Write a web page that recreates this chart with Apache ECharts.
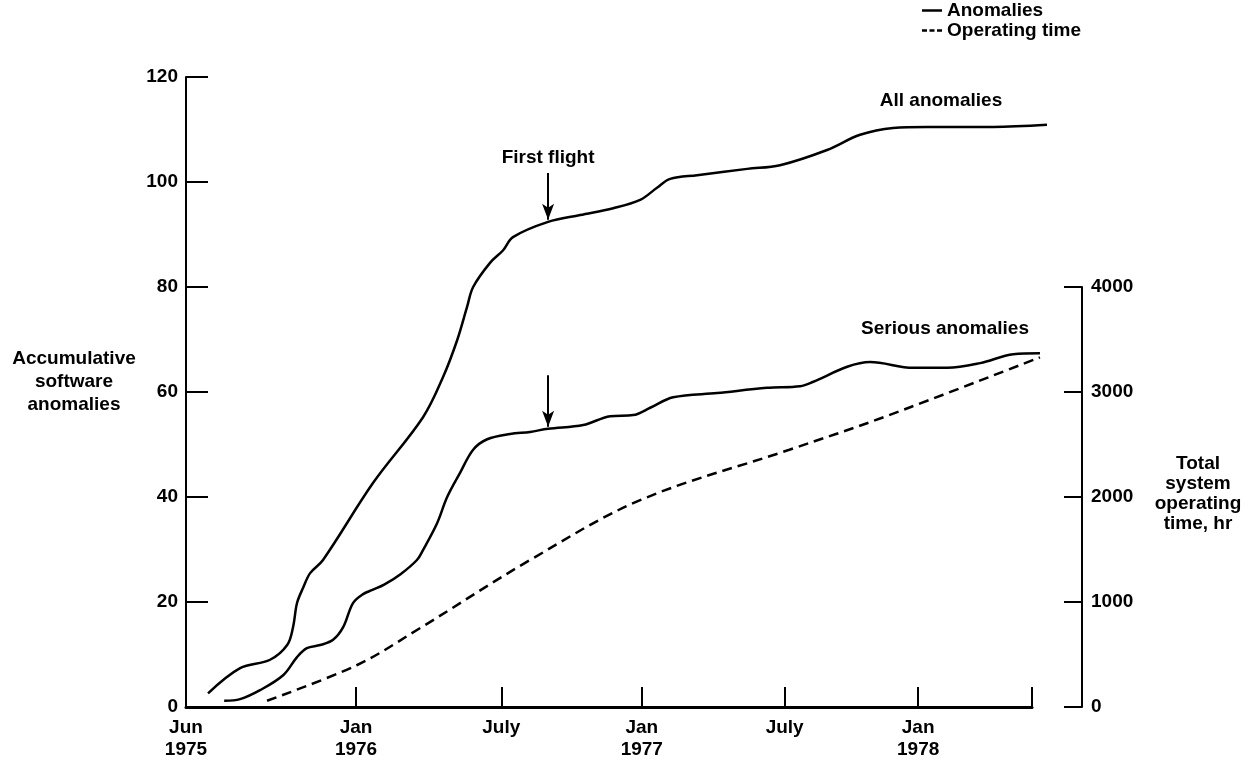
<!DOCTYPE html>
<html><head><meta charset="utf-8">
<script src="https://cdn.jsdelivr.net/npm/echarts@6/dist/echarts.min.js"></script>
<style>html,body{margin:0;padding:0;background:#fff}#c{width:1246px;height:764px}</style>
</head><body><div id="c"></div>
<script>
// x values: months since June 1975
const xMin = -0.26, xMax = 35.86;
const xTickMonths = [7.0, 13.2, 19.2, 25.3, 31.0, 35.86];
const xLabelMonths = [-0.26, 7.0, 13.2, 19.2, 25.3, 31.0];
const xLabels = ['Jun\n1975', 'Jan\n1976', 'July', 'Jan\n1977', 'July', 'Jan\n1978'];

const allMonths = [0.68, 2.05, 3.33, 4.06, 4.31, 4.48, 4.74, 5.04, 5.59, 7.73, 9.86, 10.72, 11.32, 11.74, 12.0, 12.72, 13.28, 13.7, 15.2, 16.57, 17.98, 19.13, 19.85, 20.41, 21.56, 23.7, 25.1, 27.11, 28.52, 29.93, 31.38, 34.2, 36.5];
const allValues = [2.6, 7.4, 9.0, 11.8, 15.2, 19.8, 22.7, 25.5, 28.0, 42.7, 55.2, 62.9, 69.9, 76.2, 80.0, 84.6, 87.0, 89.5, 92.4, 93.7, 95.0, 96.6, 98.9, 100.6, 101.3, 102.5, 103.2, 106.1, 109.0, 110.3, 110.5, 110.5, 110.9];

const seriousMonths = [1.37, 2.05, 2.9, 3.9, 4.48, 4.9, 5.47, 6.02, 6.45, 6.87, 7.3, 7.7, 8.2, 8.9, 9.6, 9.86, 10.46, 10.89, 11.44, 12.0, 12.6, 13.58, 14.43, 15.2, 16.7, 17.85, 18.83, 19.56, 20.54, 22.42, 24.55, 25.96, 26.5, 27.97, 28.95, 30.79, 32.24, 33.65, 35.06, 36.2];
const seriousValues = [1.2, 1.5, 3.2, 6.1, 9.5, 11.2, 11.8, 12.8, 15.2, 19.8, 21.5, 22.3, 23.3, 25.3, 28.0, 29.9, 35.0, 40.0, 44.6, 49.0, 51.0, 52.0, 52.4, 53.0, 53.7, 55.4, 55.6, 57.0, 59.0, 59.8, 60.8, 61.1, 61.9, 64.8, 65.7, 64.6, 64.6, 65.5, 67.2, 67.4];

const opMonths = [3.2, 7.05, 9.6, 14.43, 19.13, 25.5, 29.4, 36.2];
const opValues = [60, 400, 733, 1400, 1970, 2450, 2750, 3330];

const leftTicks = [0, 20, 40, 60, 80, 100, 120];
const rightTicks = [0, 1000, 2000, 3000, 4000];

const firstFlightMonth = 15.2;

const FONT = '"Liberation Sans", Arial, Helvetica, sans-serif';
const zip = (a, b) => a.map((v, i) => [v, b[i]]);

// layout (pixels)
const G = {left: 186, axisRight: 1032, drawRight: 1052, top: 77, topOp: 287, bottom: 57, W: 1246};
// the curves run slightly past the end of the drawn x axis: a wider hidden grid with the same scale
const xMaxExt = xMin + (xMax - xMin) * (G.drawRight - G.left) / (G.axisRight - G.left);

const chart = echarts.init(document.getElementById('c'), null, {renderer: 'canvas'});
const txt = {fontFamily: FONT, fontWeight: 'bold', fontSize: 19, color: '#000'};
const gtxt = (x, y, text, lh) => ({type: 'text', silent: true, style: {x, y, text, font: 'bold 19px ' + FONT, fill: '#000', align: 'center', verticalAlign: 'middle', lineHeight: lh || 22}});
const hiddenX = (gi, max) => ({type: 'value', gridIndex: gi, min: xMin, max, show: false, axisLine: {onZero: false}});
const hiddenY = (gi, max) => ({type: 'value', gridIndex: gi, min: 0, max, show: false, axisLine: {onZero: false}});

chart.setOption({
  animation: false,
  backgroundColor: '#fff',
  textStyle: {fontFamily: FONT},
  grid: [
    {left: G.left, right: G.W - G.axisRight, top: G.top, bottom: G.bottom},
    {left: G.left, right: G.W - G.axisRight, top: G.topOp, bottom: G.bottom},
    {left: G.left, right: G.W - G.drawRight, top: G.top, bottom: G.bottom},
    {left: G.left, right: G.W - G.drawRight, top: G.topOp, bottom: G.bottom}
  ],
  legend: {
    data: [
      {name: 'Anomalies', icon: 'path://M0,0H20V2.5H0Z'},
      {name: 'Operating time', icon: 'path://M0,0H5V2.5H0Z M7.5,0H12.5V2.5H7.5Z M15,0H20V2.5H15Z'}
    ],
    orient: 'vertical', left: 922, top: 1, itemGap: 1, padding: 0,
    itemWidth: 20, itemHeight: 2.5, selectedMode: false,
    textStyle: Object.assign({}, txt)
  },
  xAxis: [{
    type: 'value', gridIndex: 0, min: xMin, max: xMax,
    splitLine: {show: false},
    axisLine: {show: true, onZero: false, lineStyle: {color: '#000', width: 3}},
    axisTick: {show: true, inside: true, length: 20, lineStyle: {color: '#000', width: 2}, customValues: xTickMonths},
    axisLabel: Object.assign({}, txt, {
      customValues: xLabelMonths, margin: 10, lineHeight: 22,
      formatter: v => {
        let best = 0;
        xLabelMonths.forEach((m, i) => { if (Math.abs(m - v) < Math.abs(xLabelMonths[best] - v)) best = i; });
        return xLabels[best];
      }
    })
  },
    hiddenX(1, xMax),
    hiddenX(2, xMaxExt),
    hiddenX(3, xMaxExt)
  ],
  yAxis: [{
    type: 'value', gridIndex: 0, min: 0, max: 120, interval: 20, position: 'left',
    splitLine: {show: false},
    axisLine: {show: true, onZero: false, lineStyle: {color: '#000', width: 2}},
    axisTick: {show: true, inside: true, length: 22, lineStyle: {color: '#000', width: 2}, customValues: leftTicks},
    axisLabel: Object.assign({}, txt, {margin: 8, customValues: leftTicks, formatter: v => String(v)})
  }, {
    type: 'value', gridIndex: 1, min: 0, max: 4000, interval: 1000, position: 'right', offset: 50,
    splitLine: {show: false},
    axisLine: {show: true, onZero: false, lineStyle: {color: '#000', width: 2}},
    axisTick: {show: true, inside: true, length: 18, lineStyle: {color: '#000', width: 2}, customValues: rightTicks},
    axisLabel: Object.assign({}, txt, {margin: 9, customValues: rightTicks, formatter: v => String(v)})
  },
    hiddenY(2, 120),
    hiddenY(3, 4000)
  ],
  graphic: [
    gtxt(74, 382, 'Accumulative\nsoftware\nanomalies', 23),
    gtxt(1198, 494, 'Total\nsystem\noperating\ntime, hr', 20),
    gtxt(941, 101, 'All anomalies'),
    gtxt(945, 329, 'Serious anomalies')
  ],
  series: [{
    name: 'Anomalies', type: 'line', xAxisIndex: 2, yAxisIndex: 2,
    data: zip(allMonths, allValues), showSymbol: false, symbol: 'none',
    smooth: 0.35, clip: false,
    lineStyle: {color: '#000', width: 2.5, type: 'solid'}, itemStyle: {color: '#000'},
    markLine: {
      silent: true, animation: false,
      data: [[
        {coord: [firstFlightMonth, 101.7], symbol: 'none'},
        {coord: [firstFlightMonth, 92.8], symbol: 'arrow', symbolSize: [9, 16]}
      ]],
      lineStyle: {color: '#000', width: 2, type: 'solid'},
      label: {show: true, position: 'start', formatter: 'First flight', fontFamily: FONT, fontWeight: 'bold', fontSize: 19, color: '#000', distance: 6}
    }
  }, {
    name: 'Anomalies', type: 'line', xAxisIndex: 2, yAxisIndex: 2,
    data: zip(seriousMonths, seriousValues), showSymbol: false, symbol: 'none',
    smooth: 0.35, clip: false,
    lineStyle: {color: '#000', width: 2.5, type: 'solid'}, itemStyle: {color: '#000'},
    markLine: {
      silent: true, animation: false,
      data: [[
        {coord: [firstFlightMonth, 63.2], symbol: 'none'},
        {coord: [firstFlightMonth, 53.4], symbol: 'arrow', symbolSize: [9, 16]}
      ]],
      lineStyle: {color: '#000', width: 2, type: 'solid'},
      label: {show: false}
    }
  }, {
    name: 'Operating time', type: 'line', xAxisIndex: 3, yAxisIndex: 3,
    data: zip(opMonths, opValues), showSymbol: false, symbol: 'none',
    smooth: 0.35, clip: false,
    lineStyle: {color: '#000', width: 2.5, type: [10, 6]}, itemStyle: {color: '#000'}
  }]
});
</script></body></html>
